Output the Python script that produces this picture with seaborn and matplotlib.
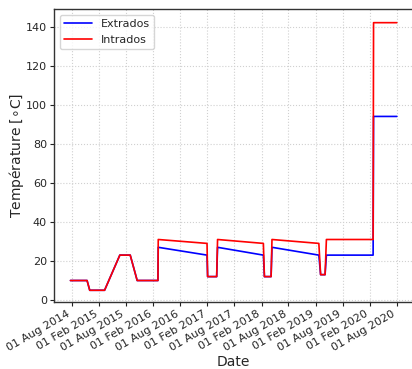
import matplotlib
matplotlib.use("Agg")
import matplotlib.pyplot as plt
import matplotlib.dates as mdates
import seaborn as sns
import pandas as pd

dates = ["2014-07-23", "2014-11-12", "2014-11-30", "2015-03-10", "2015-06-21",
         "2015-08-30", "2015-10-16", "2016-03-04", "2016-03-06", "2017-01-29",
         "2017-02-02", "2017-04-04", "2017-04-10", "2018-02-13", "2018-02-20",
         "2018-04-06", "2018-04-12", "2019-02-22", "2019-03-06", "2019-04-05",
         "2019-04-14", "2020-02-23", "2020-02-26", "2020-08-01"]
extrados = [10, 10, 5, 5, 23, 23, 10, 10, 27, 23,
            12, 12, 27, 23, 12, 12, 27, 23, 13, 13,
            23, 23, 94, 94]
intrados = [10, 10, 5, 5, 23, 23, 10, 10, 31, 29,
            12, 12, 31, 29, 12, 12, 31, 29, 13, 13,
            31, 31, 142, 142]

df = pd.DataFrame({
    "Date": pd.to_datetime(dates * 2),
    "val": extrados + intrados,
    "serie": ["Extrados"] * len(dates) + ["Intrados"] * len(dates),
})

sns.set_style("white")
fig = plt.figure(figsize=(4.12, 3.69), dpi=100)
ax = fig.add_axes([54 / 412, (369 - 302) / 369, (413 - 54) / 412, (302 - 9) / 369])
sns.lineplot(data=df, x="Date", y="val", hue="serie",
             palette={"Extrados": "blue", "Intrados": "red"},
             ax=ax, linewidth=1.2, estimator=None, sort=False)

ax.set_ylim(-1, 149)
ax.set_yticks([0, 20, 40, 60, 80, 100, 120, 140])
ax.xaxis.set_major_locator(mdates.MonthLocator(bymonth=[2, 8], bymonthday=1))
ax.xaxis.set_major_formatter(mdates.DateFormatter("%d %b %Y"))
ax.set_xlim(pd.Timestamp("2014-04-03"), pd.Timestamp("2020-11-18"))
for lbl in ax.get_xticklabels():
    lbl.set_rotation(30)
    lbl.set_ha("right")
ax.tick_params(axis="both", labelsize=8, length=3, width=0.8, color="#222222",
               direction="out", bottom=True, left=True, pad=2)
ax.grid(True, linestyle=":", color="#d0d0d0", linewidth=0.8)
for s in ax.spines.values():
    s.set_color("#333333")
    s.set_linewidth(1.0)
ax.set_xlabel("Date", fontsize=10, labelpad=1)
ax.set_ylabel("Température [$\\circ$C]", fontsize=10, labelpad=0)
leg = ax.legend(loc="upper left", fontsize=8, frameon=True, handlelength=2.5)
leg.get_frame().set_edgecolor("#cccccc")
fig.savefig("out.png", dpi=100)
